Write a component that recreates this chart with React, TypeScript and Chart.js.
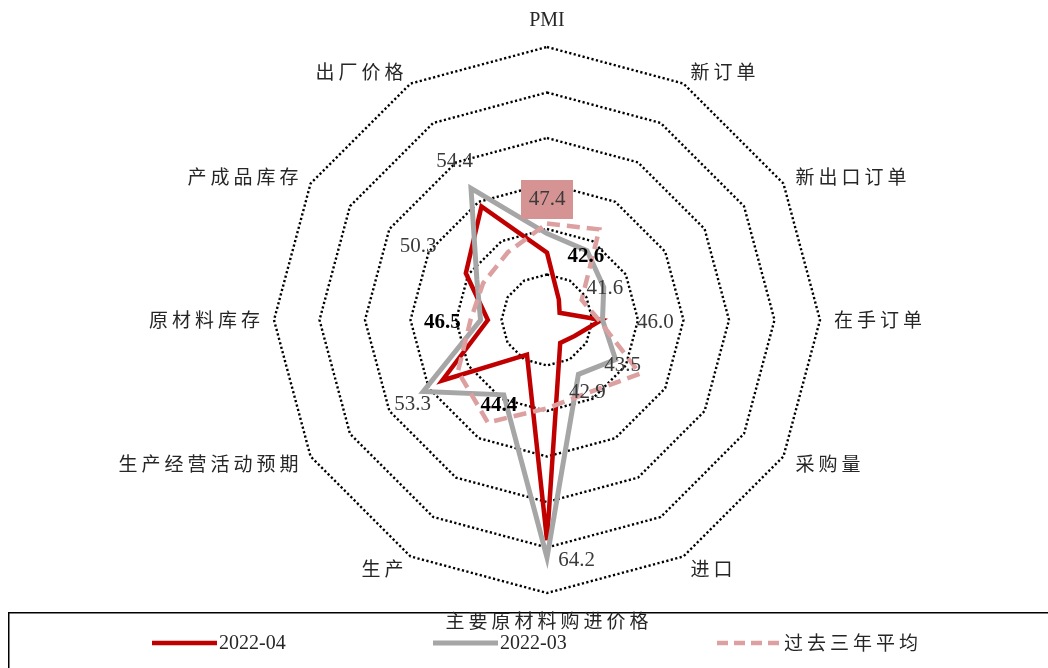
import React, { useEffect, useRef } from "react";
import { Chart, registerables } from "chart.js";

Chart.register(...registerables);

// ---------------- data ----------------
const categories = [
  "PMI",
  "新订单",
  "新出口订单",
  "在手订单",
  "采购量",
  "进口",
  "主要原材料购进价格",
  "生产",
  "生产经营活动预期",
  "原材料库存",
  "产成品库存",
  "出厂价格",
];
const seriesNames = ["2022-04", "2022-03", "过去三年平均"];
const apr2022 = [47.4, 42.6, 41.6, 46.0, 43.5, 42.9, 64.2, 44.4, 53.3, 46.5, 50.3, 54.4];
const mar2022 = [49.5, 48.8, 47.2, 46.1, 48.7, 46.9, 66.1, 49.5, 55.7, 47.3, 48.9, 56.7];
const avg3y = [50.6, 51.5, 44.4, 45.7, 51.8, 49.2, 49.7, 53.0, 51.3, 48.4, 48.1, 48.6];
const axisMin = 40;
const axisMax = 70;
const axisStep = 5;

// ---------------- label layout (not data) ----------------
// where each April value label sits, expressed on the value scale along its axis
const valueLabelAt = [53.35, 48.35, 47.35, 51.9, 49.6, 48.9, 66.1, 50.6, 57.3, 51.5, 56.35, 60.3];
const valueLabelShift = [
  [0, 0], [1, 1], [0, 1], [0, 1], [0, 1], [0, 1],
  [29.5, 2], [0, 1], [2, 5], [0, 1.5], [0, 0], [0, 0],
];
const boldLabel = [false, true, false, false, false, false, false, true, false, true, false, false];
const boxedLabel = [true, false, false, false, false, false, false, false, false, false, false, false];

const RED = "#C00000";
const GRAY = "#A6A6A6";
const PINK = "#DDA0A0";
const BOX = "#D69393";
const SERIF = "'Liberation Serif', 'Times New Roman', serif";
const CJK = "'Noto Sans CJK SC', sans-serif";

function drawSpaced(ctx: CanvasRenderingContext2D, text: string, x: number, y: number, align: string, spacing: number) {
  (ctx as any).letterSpacing = spacing + "px";
  ctx.textAlign = "left";
  const w = ctx.measureText(text).width - (/[\u4e00-\u9fff]/.test(text) ? spacing : 0);
  let sx = x;
  if (align === "right") sx = x - w;
  else if (align === "center") sx = x - w / 2;
  ctx.fillText(text, sx, y);
  (ctx as any).letterSpacing = "0px";
}

const overlayPlugin = {
  id: "overlay",
  afterDatasetsDraw(chart: any) {
    const ctx: CanvasRenderingContext2D = chart.ctx;
    const scale = chart.scales.r;
    ctx.save();
    ctx.textBaseline = "middle";
    apr2022.forEach((v, i) => {
      const d = scale.getDistanceFromCenterForValue(valueLabelAt[i]);
      const p = scale.getPointPosition(i, d);
      const x = p.x + valueLabelShift[i][0];
      const y = p.y + valueLabelShift[i][1];
      const text = v.toFixed(1);
      ctx.font = (boldLabel[i] ? "bold " : "") + "21px " + SERIF;
      if (boxedLabel[i]) {
        ctx.fillStyle = BOX;
        ctx.fillRect(Math.round(x - 26), Math.round(y - 19), 52, 39);
      }
      ctx.fillStyle = boldLabel[i] ? "#000000" : "#3a3a3a";
      ctx.textAlign = "center";
      ctx.fillText(text, x, y + 1);
    });
    ctx.restore();
  },
  afterDraw(chart: any) {
    const ctx: CanvasRenderingContext2D = chart.ctx;
    const scale = chart.scales.r;
    ctx.save();

    // legend frame
    ctx.strokeStyle = "#000";
    ctx.lineWidth = 1.5;
    ctx.strokeRect(8.75, 612.75, 1100, 100);

    // legend entries
    const legendX = [152, 433, 717];
    const legendY = 643;
    const styles = [
      { color: RED, dash: [] as number[], width: 4.5 },
      { color: GRAY, dash: [] as number[], width: 5 },
      { color: PINK, dash: [11, 6], width: 4.5 },
    ];
    seriesNames.forEach((name, k) => {
      const s = styles[k];
      ctx.beginPath();
      ctx.strokeStyle = s.color;
      ctx.lineWidth = s.width;
      ctx.setLineDash(s.dash);
      ctx.moveTo(legendX[k], legendY);
      ctx.lineTo(legendX[k] + 65, legendY);
      ctx.stroke();
      ctx.setLineDash([]);
      ctx.fillStyle = "#262626";
      ctx.textBaseline = "middle";
      const isCjk = /[\u4e00-\u9fff]/.test(name);
      ctx.font = isCjk ? "19px " + CJK : "20px " + SERIF;
      drawSpaced(ctx, name, legendX[k] + 67, legendY + (isCjk ? 0 : 1), "left", isCjk ? 4 : 0);
    });

    // category labels around the radar
    const R = scale.drawingArea;
    categories.forEach((label, i) => {
      const n = categories.length;
      const deg = (360 / n) * i;
      const vertical = deg === 0 || deg === 180;
      const p = scale.getPointPosition(i, R + (vertical ? 26 : 14));
      const align = vertical ? "center" : deg < 180 ? "left" : "right";
      const isCjk = /[\u4e00-\u9fff]/.test(label);
      ctx.fillStyle = "#262626";
      ctx.textBaseline = "middle";
      ctx.font = isCjk ? "19px " + CJK : "20px " + SERIF;
      drawSpaced(ctx, label, p.x, p.y + (deg === 180 ? 2 : 0), align, isCjk ? 4 : 0);
    });
    ctx.restore();
  },
};

export default function App() {
  const ref = useRef<HTMLCanvasElement>(null);
  useEffect(() => {
    const chart = new Chart(ref.current as HTMLCanvasElement, {
      type: "radar",
      data: {
        labels: categories,
        datasets: [
          {
            label: seriesNames[0],
            data: apr2022,
            borderColor: RED,
            borderWidth: 4.5,
            fill: false,
            pointRadius: 0,
            order: 3,
          },
          {
            label: seriesNames[1],
            data: mar2022,
            borderColor: GRAY,
            borderWidth: 5,
            fill: false,
            pointRadius: 0,
            order: 2,
          },
          {
            label: seriesNames[2],
            data: avg3y,
            borderColor: PINK,
            borderWidth: 4.5,
            borderDash: [13, 7],
            fill: false,
            pointRadius: 0,
            order: 1,
          },
        ],
      },
      options: {
        responsive: false,
        animation: false,
        devicePixelRatio: 1,
        layout: { padding: { left: 273, right: 227, top: 47, bottom: 74 } },
        plugins: {
          legend: { display: false },
          title: { display: false },
          tooltip: { enabled: false },
        },
        elements: { line: { tension: 0, borderJoinStyle: "miter" } },
        scales: {
          r: {
            min: axisMin,
            max: axisMax,
            ticks: { display: false, stepSize: axisStep },
            angleLines: { display: false },
            pointLabels: { display: false },
            grid: { color: "#000000", lineWidth: 2.4, circular: false },
            border: { dash: [2.2, 2.4] },
          },
        },
      },
      plugins: [overlayPlugin],
    } as any);
    return () => chart.destroy();
  }, []);
  return (
    <div style={{ position: "fixed", left: 0, top: 0, width: 1048, height: 668, background: "#fff" }}>
      <canvas ref={ref} width={1048} height={668} style={{ display: "block", width: 1048, height: 668 }} />
    </div>
  );
}
